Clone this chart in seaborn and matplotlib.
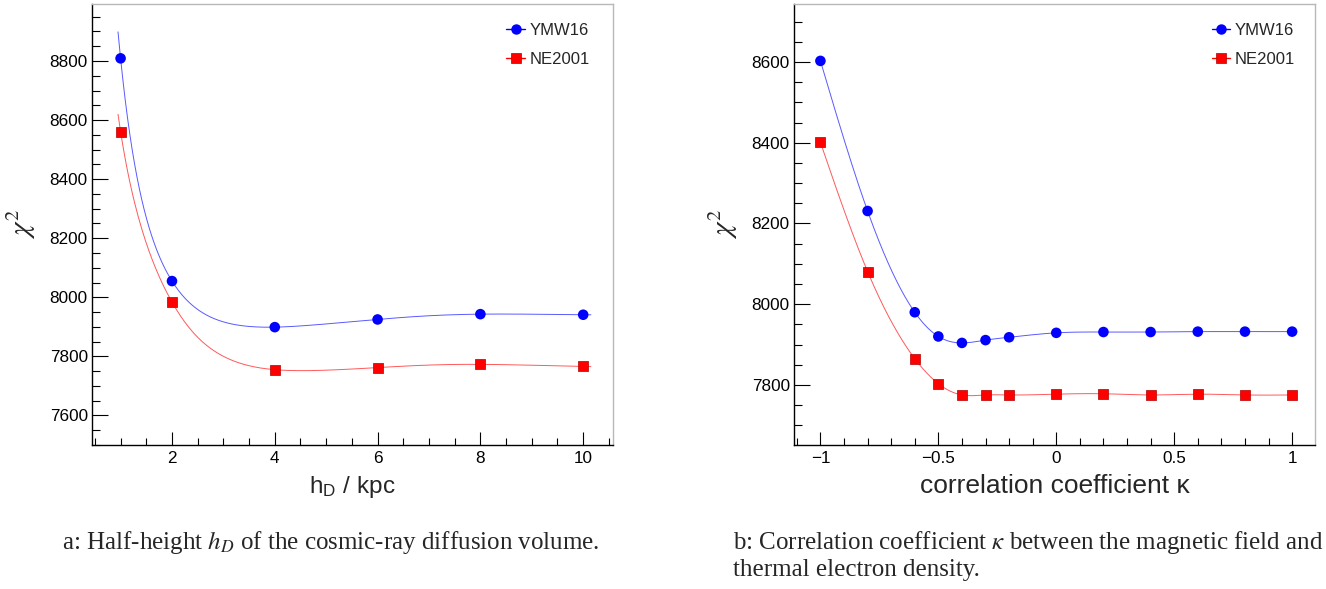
import numpy as np
import pandas as pd
import matplotlib
matplotlib.use("Agg")
import matplotlib.pyplot as plt
import seaborn as sns
from matplotlib.ticker import MultipleLocator, FuncFormatter
from matplotlib.lines import Line2D

# ---------------- data ----------------
hD = [1, 2, 4, 6, 8, 10]
ymw16_hD = [8809, 8055, 7899, 7925, 7943, 7941]
ne2001_hD = [8561, 7984, 7755, 7762, 7773, 7766]

kappa = [-1, -0.8, -0.6, -0.5, -0.4, -0.3, -0.2, 0, 0.2, 0.4, 0.6, 0.8, 1]
ymw16_k = [8603, 8231, 7980, 7920, 7904, 7911, 7918, 7929, 7931, 7931, 7932, 7932, 7932]
ne2001_k = [8401, 8081, 7865, 7803, 7775, 7775, 7775, 7777, 7778, 7775, 7777, 7775, 7775]

series_names = ["YMW16", "NE2001"]
xlabels = ["h$_{\\mathregular{D}}$ / kpc", "correlation coefficient κ"]
captions_a = ["a: Half-height $h_D$ of the cosmic-ray diffusion volume."]
captions_b = ["b: Correlation coefficient $\\kappa$ between the magnetic field and",
              "thermal electron density."]

BLUE = "#0000ff"
RED = "#ff0000"


def natural_spline(x, y, xs):
    x = np.asarray(x, float)
    y = np.asarray(y, float)
    n = len(x)
    h = np.diff(x)
    A = np.zeros((n, n))
    r = np.zeros(n)
    A[0, 0] = 1
    A[-1, -1] = 1
    for i in range(1, n - 1):
        A[i, i - 1] = h[i - 1]
        A[i, i] = 2 * (h[i - 1] + h[i])
        A[i, i + 1] = h[i]
        r[i] = 3 * ((y[i + 1] - y[i]) / h[i] - (y[i] - y[i - 1]) / h[i - 1])
    c = np.linalg.solve(A, r)
    b = (y[1:] - y[:-1]) / h - h * (2 * c[:-1] + c[1:]) / 3
    d = (c[1:] - c[:-1]) / (3 * h)
    idx = np.clip(np.searchsorted(x, xs) - 1, 0, n - 2)
    dx = xs - x[idx]
    return y[idx] + b[idx] * dx + c[idx] * dx ** 2 + d[idx] * dx ** 3


sns.set_style("ticks")
plt.rcParams["font.family"] = ["Liberation Sans", "DejaVu Sans"]
plt.rcParams["mathtext.fontset"] = "stix"
plt.rcParams["axes.unicode_minus"] = True

W, H = 1326, 589
fig = plt.figure(figsize=(W / 100, H / 100), dpi=100)


def px_axes(l, r, t, b):
    return fig.add_axes([l / W, 1 - b / H, (r - l) / W, (b - t) / H])


axL = px_axes(92, 613, 4, 445)
axR = px_axes(794, 1315, 4, 445)

# ---------- left panel: smooth curve (spline in 1/x) ----------
xsL = np.linspace(0.95, 10.15, 400)
uL = 1.0 / np.asarray(hD, float)
order = np.argsort(uL)
for yv, col in [(ymw16_hD, BLUE), (ne2001_hD, RED)]:
    ys = natural_spline(uL[order], np.asarray(yv, float)[order], 1.0 / xsL)
    sns.lineplot(x=xsL, y=ys, ax=axL, color=col, lw=0.7, alpha=0.65,
                 sort=False, estimator=None, legend=False)

# ---------- right panel: natural spline ----------
xsR = np.linspace(-1, 1, 600)
for yv, col in [(ymw16_k, BLUE), (ne2001_k, RED)]:
    ys = natural_spline(kappa, yv, xsR)
    sns.lineplot(x=xsR, y=ys, ax=axR, color=col, lw=0.7, alpha=0.65,
                 sort=False, estimator=None, legend=False)

for ax, xv, yb, yr in [(axL, hD, ymw16_hD, ne2001_hD), (axR, kappa, ymw16_k, ne2001_k)]:
    sns.scatterplot(x=xv, y=yb, ax=ax, color=BLUE, marker="o", s=58,
                    edgecolor="none", zorder=4, legend=False)
    sns.scatterplot(x=xv, y=yr, ax=ax, color=RED, marker="s", s=58,
                    edgecolor="#b00000", linewidth=0.5, zorder=4, legend=False)

# ---------- axes styling ----------
axL.set_xlim(0.444, 10.58)
axL.set_ylim(7500, 8993)
axL.xaxis.set_major_locator(MultipleLocator(2))
axL.xaxis.set_minor_locator(MultipleLocator(0.5))
axL.yaxis.set_major_locator(MultipleLocator(200))
axL.yaxis.set_minor_locator(MultipleLocator(50))

axR.set_xlim(-1.112, 1.097)
axR.set_ylim(7651, 8744)
axR.xaxis.set_major_locator(MultipleLocator(0.5))
axR.xaxis.set_minor_locator(MultipleLocator(0.1))
axR.yaxis.set_major_locator(MultipleLocator(200))
axR.yaxis.set_minor_locator(MultipleLocator(50))
axR.xaxis.set_major_formatter(FuncFormatter(lambda v, p: f"{v:g}".replace("-", "\u2212")))

for ax, xl, xfs in [(axL, xlabels[0], 17.5), (axR, xlabels[1], 19)]:
    ax.set_facecolor("white")
    for s in ["left", "bottom"]:
        ax.spines[s].set_color("black")
        ax.spines[s].set_linewidth(1.0)
    for s in ["top", "right"]:
        ax.spines[s].set_color("#b8b8b8")
        ax.spines[s].set_linewidth(1.0)
    ax.tick_params(axis="both", which="both", direction="in", top=False, right=False,
                   width=0.8, colors="black", labelsize=12.3)
    ax.tick_params(axis="y", which="major", length=11.4, pad=3)
    ax.tick_params(axis="y", which="minor", length=5.7)
    ax.tick_params(axis="x", which="major", length=9.6, pad=4)
    ax.tick_params(axis="x", which="minor", length=4.8)
    ax.set_xlabel(xl, fontsize=xfs)
    ax.xaxis.set_label_coords(0.5, -0.066)
    ax.set_ylabel("$\\chi^2$", fontsize=21)
    ax.yaxis.set_label_coords(-0.103, 0.5)
    handles = [Line2D([], [], color=BLUE, marker="o", markersize=6.5, lw=1.0),
               Line2D([], [], color=RED, marker="s", markersize=6.5, lw=1.0,
                      markeredgecolor="#b00000", markeredgewidth=0.5)]
    anchor_x = 0.956 if ax is axL else 0.962
    ax.legend(handles, series_names, loc="upper right", bbox_to_anchor=(anchor_x, 0.958),
              frameon=False, fontsize=12, handlelength=1.1, handletextpad=0.3,
              labelspacing=0.85, borderaxespad=0, borderpad=0)

cap_font = dict(family=["Liberation Serif", "DejaVu Serif"], fontsize=18, va="center", ha="left")
fig.text(62 / W, 1 - 543 / H, captions_a[0], **cap_font)
fig.text(733 / W, 1 - 543 / H, captions_b[0], **cap_font)
fig.text(733 / W, 1 - 570 / H, captions_b[1], **cap_font)

fig.savefig("out.png", dpi=100, facecolor="white")
